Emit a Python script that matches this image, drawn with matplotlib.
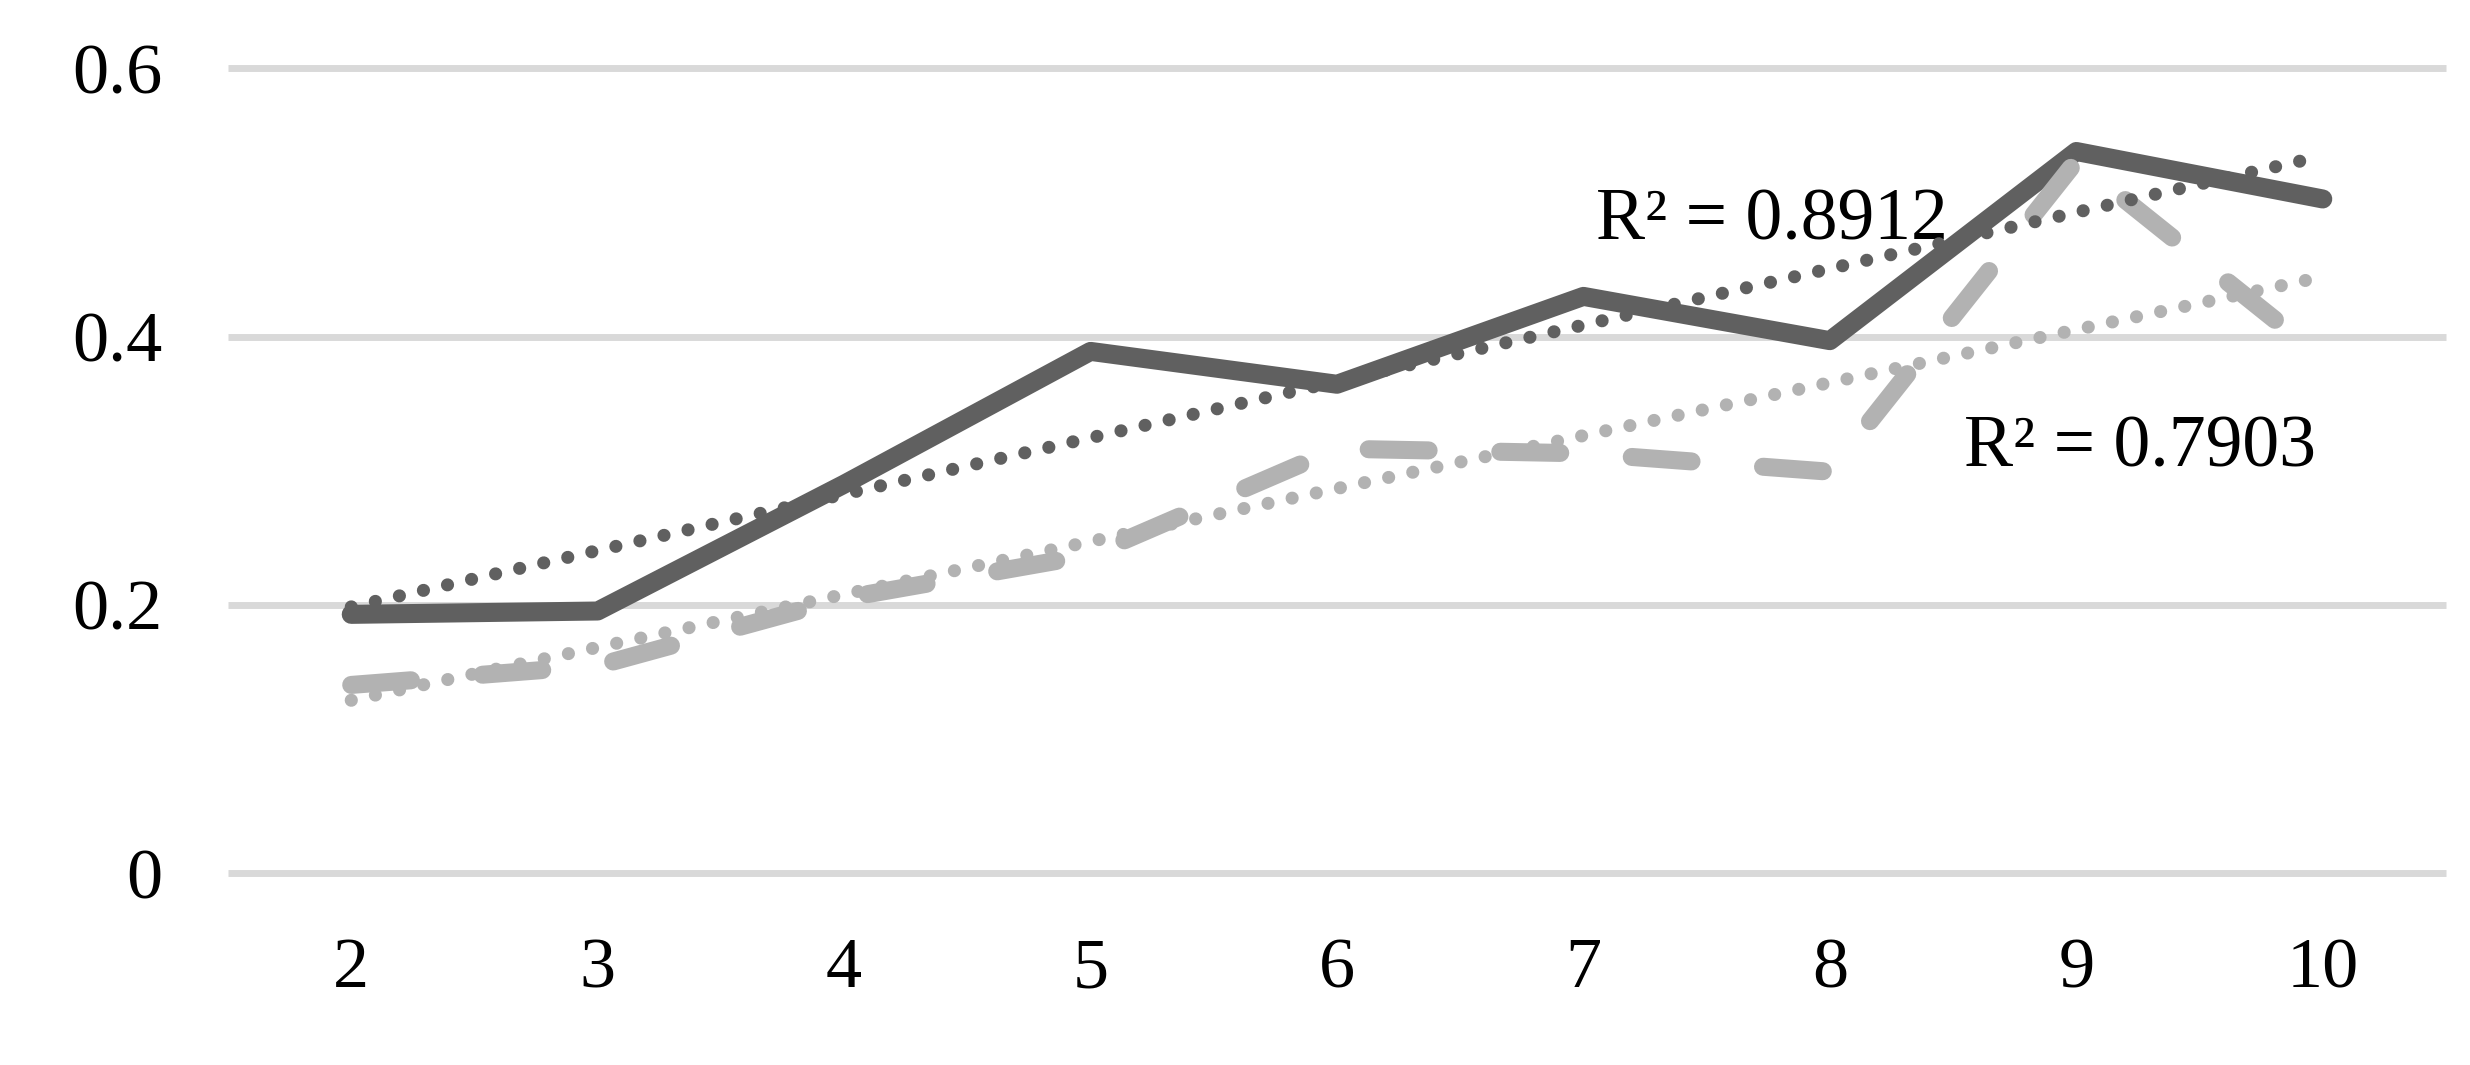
import numpy as np
from matplotlib import pyplot as plt

# values
groups = [2, 3, 4, 5, 6, 7, 8, 9, 10]
series_dark = [0.193, 0.1955, 0.290, 0.389, 0.3645, 0.430, 0.397, 0.538, 0.5026]
series_light = [0.1404, 0.1547, 0.205, 0.2373, 0.3165, 0.313, 0.2993, 0.531, 0.384]
y_ticks = [0, 0.2, 0.4, 0.6]
y_tick_labels = ["0", "0.2", "0.4", "0.6"]
r2_dark = "R\u00b2 = 0.8912"
r2_light = "R\u00b2 = 0.7903"

dark = "#606060"
light = "#b2b2b2"
grid = "#d9d9d9"

plt.rcParams['font.family'] = ['Liberation Serif', 'DejaVu Serif']

fig = plt.figure(figsize=(24.7, 10.65), dpi=100)
ax = fig.add_axes([228 / 2470, 1 - 873.3 / 1065, (2446 - 228) / 2470, (873.3 - 68.3) / 1065])

x = np.array(groups, dtype=float)

# gridlines
ax.hlines(y_ticks, 1.5, 10.5, colors=grid, linewidth=5, clip_on=False, zorder=0)

ax.plot(x, series_dark, color=dark, linewidth=13.7, solid_capstyle='round',
        solid_joinstyle='round', zorder=2)
ax.plot(x, series_light, color=light, linewidth=13, linestyle=(0, (3.32, 3.97)),
        dash_capstyle='round', dash_joinstyle='round', zorder=3)

# linear trendlines
for vals, col, z in [(series_light, light, 4), (series_dark, dark, 5)]:
    k, b = np.polyfit(x, vals, 1)
    ax.plot(x[[0, -1]], k * x[[0, -1]] + b, color=col, linewidth=9.4,
            linestyle=(0, (0.01, 1.88)), dash_capstyle='round', zorder=z)

ax.set_xlim(1.5, 10.5)
ax.set_ylim(0, 0.6)
ax.set_xticks(groups)
ax.set_xticklabels([str(g) for g in groups])
ax.set_yticks(y_ticks)
ax.set_yticklabels(y_tick_labels)
ax.tick_params(axis='both', length=0, labelsize=52)
ax.tick_params(axis='y', pad=47)
ax.tick_params(axis='x', pad=46)
for s in ax.spines.values():
    s.set_visible(False)

ax.text(1596, 1065 - 240, r2_dark, transform=None, fontsize=53, ha='left', va='baseline')
ax.text(1964, 1065 - 466.7, r2_light, transform=None, fontsize=53, ha='left', va='baseline')

fig.savefig("out.png", dpi=100, facecolor="white")
